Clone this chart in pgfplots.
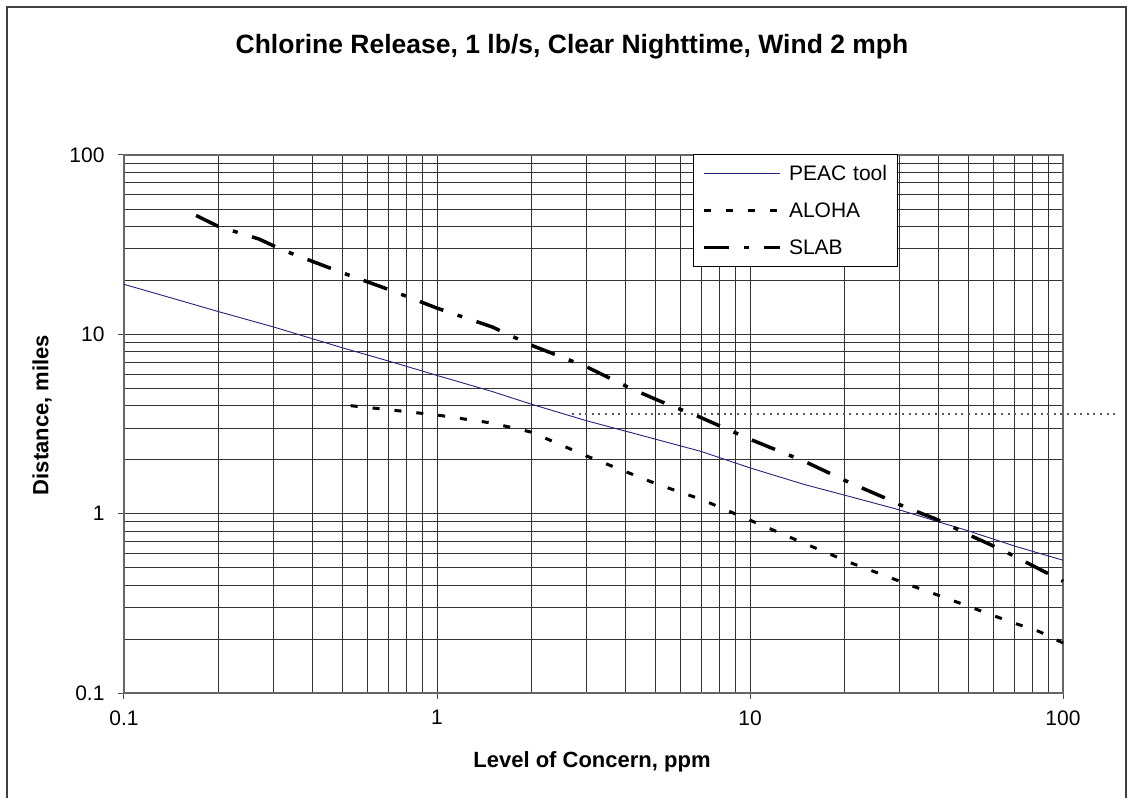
\documentclass[border=0pt]{standalone}
\usepackage{pgfplots}
\pgfplotsset{compat=1.18}
\usepackage{fontspec}
\setmainfont{Liberation Sans}
\begin{document}
\begin{tikzpicture}[x=1pt,y=1pt]
\useasboundingbox (0,0) rectangle (1129,798);
\draw[black!75, line width=1.5pt] (7,0) -- (7,791) -- (1126,791) -- (1126,0);
\node[font=\fontsize{26.5}{31}\selectfont\bfseries] at (572,751) {Chlorine Release, 1 lb/s, Clear Nighttime, Wind 2 mph};
\node[font=\fontsize{22}{26}\selectfont\bfseries] at (592,36) {Level of Concern, ppm};
\node[font=\fontsize{22}{26}\selectfont\bfseries, rotate=90] at (42,383) {Distance, miles};
\begin{axis}[
  at={(124pt,105pt)}, anchor=south west,
  width=939pt, height=538pt, scale only axis,
  xmode=log, ymode=log,
  xmin=0.1, xmax=100, ymin=0.1, ymax=100,
  xtick={0.1,1,10,100}, xticklabels={0.1,1,10,100},
  ytick={0.1,1,10,100}, yticklabels={0.1,1,10,100},
  /pgf/number format/assume math mode=true,
  tick label style={font=\fontsize{21}{25}\selectfont},
  xticklabel style={yshift=-8pt},
  yticklabel style={xshift=-10pt},
  tick align=outside, tick pos=left,
  major tick length=6pt, minor tick length=0pt,
  major tick style={black!70, line width=1pt},
  grid=both,
  major grid style={black!80, line width=0.9pt},
  minor grid style={black!80, line width=0.9pt},
  axis line style={black!60, line width=1.3pt},
  clip=false,
  legend style={at={(rel axis cs:0.606,1.002)}, anchor=north west,
    draw=black, line width=1pt, fill=white,
    font=\fontsize{21}{25}\selectfont,
    inner xsep=9pt, inner ysep=0.5pt, column sep=7pt,
    nodes={inner sep=0pt, minimum height=37pt, text width=99pt, line width=0.4pt}},
  legend cell align=left,
  legend image code/.code={\draw[#1] (0pt,0pt) -- (76pt,0pt);},
]
\addplot[color={rgb,255:red,35;green,35;blue,125}, line width=0.9pt] coordinates {
(0.1,19) (0.15,15.5) (0.2,13.4) (0.3,11) (0.5,8.4) (0.7,7.1) (1,5.9) (1.5,4.8) (2,4.08) (3,3.3) (5,2.6) (7,2.22) (10,1.8) (15,1.45) (20,1.27) (30,1.05) (50,0.8) (70,0.66) (100,0.55)
};
\addlegendentry{PEAC tool}
\addplot[black, line width=3pt, dash pattern=on 7pt off 15pt] coordinates {
(0.53,4.0) (0.7,3.8) (1,3.55) (1.5,3.2) (2,2.85) (3,2.1) (5,1.47) (7,1.2) (10,0.92) (15,0.68) (20.8,0.535) (32.4,0.40) (44,0.33) (60,0.27) (70,0.245) (84,0.22) (100,0.19)
};
\addlegendentry{ALOHA}
\addplot[black, line width=3.5pt, dash pattern=on 25pt off 15pt on 5pt off 15pt] coordinates {
(0.17,46) (0.2,40) (0.27,34) (0.32,29.6) (0.5,22) (0.7,17.8) (1,14) (1.5,11) (2,8.7) (3,6.6) (4.2,4.95) (5.4,4.1) (6.8,3.5) (10,2.6) (15,1.95) (20.8,1.49) (27.4,1.21) (31.6,1.08) (38.9,0.94) (44.6,0.84) (51.5,0.745) (64.8,0.62) (100,0.42)
};
\addlegendentry{SLAB}
\addplot[forget plot, black!65, line width=2pt, dash pattern=on 2pt off 4.6pt] coordinates {(2.7,3.6) (150,3.6)};
\end{axis}
\end{tikzpicture}
\end{document}
